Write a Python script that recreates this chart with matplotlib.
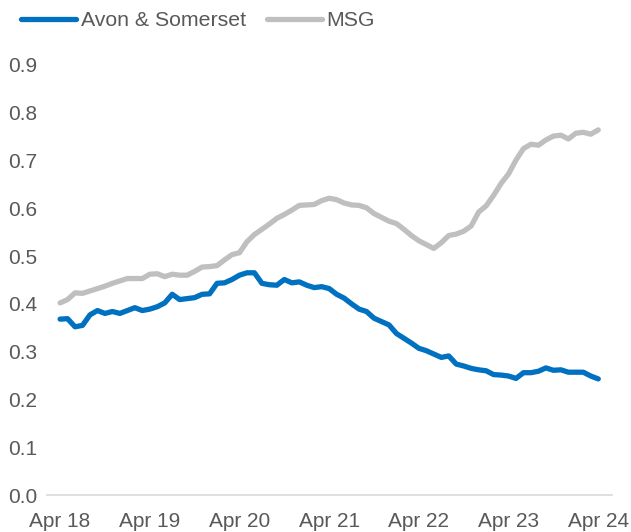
import numpy as np
from matplotlib import pyplot as plt

plt.rcParams["font.family"] = ["Liberation Sans", "DejaVu Sans"]

# monthly values, Apr 18 .. Apr 24
avon = [
    0.368, 0.369, 0.352, 0.355, 0.377, 0.386, 0.380, 0.384, 0.380, 0.386,
    0.392, 0.386, 0.389, 0.394, 0.402, 0.420, 0.409, 0.411, 0.413, 0.420,
    0.421, 0.443, 0.444, 0.451, 0.460, 0.465, 0.465, 0.443, 0.440, 0.439,
    0.451, 0.444, 0.446, 0.439, 0.434, 0.436, 0.432, 0.420, 0.412, 0.400,
    0.389, 0.384, 0.370, 0.363, 0.356, 0.338, 0.328, 0.318, 0.307, 0.302,
    0.295, 0.288, 0.291, 0.274, 0.270, 0.265, 0.262, 0.260, 0.252, 0.251,
    0.249, 0.244, 0.256, 0.256, 0.259, 0.266, 0.261, 0.262, 0.257, 0.257,
    0.257, 0.249, 0.243,
]
msg = [
    0.402, 0.409, 0.423, 0.422, 0.427, 0.432, 0.437, 0.443, 0.448, 0.453,
    0.453, 0.453, 0.462, 0.463, 0.457, 0.462, 0.460, 0.460, 0.468, 0.477,
    0.478, 0.480, 0.492, 0.503, 0.507, 0.530, 0.545, 0.556, 0.567, 0.579,
    0.587, 0.596, 0.606, 0.607, 0.608, 0.616, 0.621, 0.618, 0.611, 0.607,
    0.606, 0.601, 0.589, 0.581, 0.573, 0.568, 0.556, 0.543, 0.532, 0.524,
    0.516, 0.528, 0.543, 0.546, 0.552, 0.563, 0.592, 0.605, 0.627, 0.652,
    0.672, 0.701, 0.725, 0.734, 0.732, 0.743, 0.751, 0.753, 0.745, 0.757,
    0.759, 0.755, 0.764,
]
tick_labels = ["Apr 18", "Apr 19", "Apr 20", "Apr 21", "Apr 22", "Apr 23", "Apr 24"]

x = np.arange(len(avon))
text_color = "#595959"

fig = plt.figure(figsize=(6.31, 5.32), dpi=100)
ax = fig.add_axes([0.0745, 0.0695, 0.8955, 0.8085])

ax.plot(x, avon, color="#0070C0", lw=3.8, solid_capstyle="round",
        solid_joinstyle="round", label="Avon & Somerset")
ax.plot(x, msg, color="#BFBFBF", lw=3.8, solid_capstyle="round",
        solid_joinstyle="round", label="MSG")

ax.set_xlim(-1.75, 73.85)
ax.set_ylim(0, 0.9)
ax.set_xticks(np.arange(0, 73, 12))
ax.set_xticklabels(tick_labels)
ax.set_yticks(np.arange(0, 0.91, 0.1))
ax.set_yticklabels([f"{v:.1f}" for v in np.arange(0, 0.91, 0.1)])
ax.tick_params(axis="both", length=0, labelsize=15, colors=text_color)
ax.tick_params(axis="y", pad=7)
ax.tick_params(axis="x", pad=12)

for s in ["top", "right", "left"]:
    ax.spines[s].set_visible(False)
ax.spines["bottom"].set_color("#D9D9D9")
ax.spines["bottom"].set_linewidth(1.2)

leg = fig.legend(loc="center left", bbox_to_anchor=(0.02, 0.961), ncol=2,
                 frameon=False, fontsize=15.3, handlelength=2.6,
                 handletextpad=0.2, columnspacing=1.0, borderaxespad=0)
for t in leg.get_texts():
    t.set_color(text_color)

fig.savefig("out.png", dpi=100)
